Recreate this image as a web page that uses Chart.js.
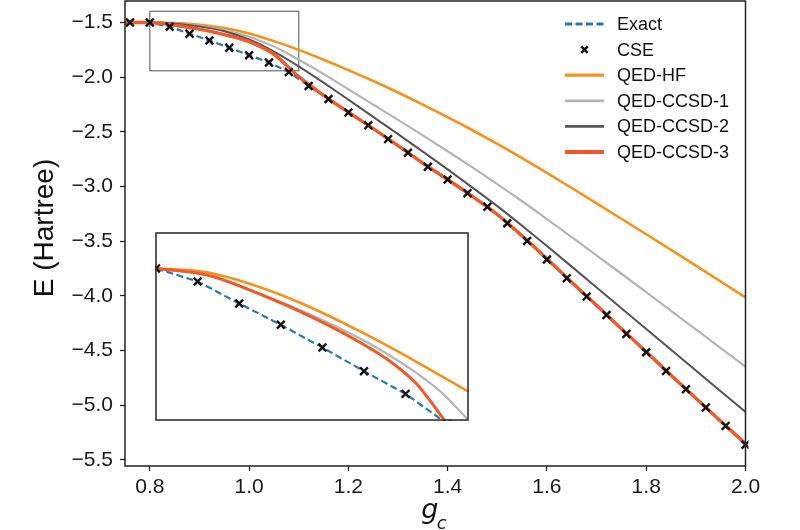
<!DOCTYPE html>
<html><head><meta charset="utf-8">
<script src="https://cdn.jsdelivr.net/npm/chart.js@4.4.1/dist/chart.umd.min.js"></script>
<style>
html,body{margin:0;padding:0;background:#fff;}
#wrap{position:relative;width:800px;height:530px;overflow:hidden;}
#main{position:absolute;left:0;top:0;}
#inset{position:absolute;left:155px;top:232px;background:#fff;}
</style></head><body>
<div id="wrap"><canvas id="main" width="800" height="530"></canvas><canvas id="inset" width="314" height="189"></canvas></div>
<script>
// ---------- data ----------
const xTicks = [0.8, 1.0, 1.2, 1.4, 1.6, 1.8, 2.0];
const yTicks = [-1.5, -2.0, -2.5, -3.0, -3.5, -4.0, -4.5, -5.0, -5.5];

const gridX = [0.75,0.80,0.85,0.90,0.95,1.00,1.05,1.10,1.15,1.20,1.25,1.30,1.35,1.40,1.45,1.50,1.55,1.60,1.65,1.70,1.75,1.80,1.85,1.90,1.95,2.00];
const hfE   = [-1.50,-1.50,-1.505,-1.52,-1.55,-1.60,-1.67,-1.75,-1.84,-1.935,-2.035,-2.14,-2.25,-2.365,-2.485,-2.61,-2.74,-2.875,-3.013,-3.153,-3.294,-3.436,-3.579,-3.723,-3.868,-4.014];
const ccsd1E= [-1.50,-1.50,-1.508,-1.53,-1.57,-1.63,-1.72,-1.84,-1.97,-2.11,-2.25,-2.39,-2.532,-2.677,-2.825,-2.977,-3.134,-3.297,-3.462,-3.629,-3.797,-3.966,-4.136,-4.306,-4.477,-4.648];
const ccsd2E= [-1.50,-1.50,-1.51,-1.535,-1.58,-1.655,-1.765,-1.90,-2.05,-2.205,-2.362,-2.52,-2.68,-2.843,-3.009,-3.179,-3.359,-3.544,-3.732,-3.922,-4.112,-4.302,-4.492,-4.682,-4.872,-5.06];
const ccsd3E= [-1.50,-1.50,-1.525,-1.56,-1.61,-1.675,-1.79,-1.995,-2.165,-2.32,-2.47,-2.625,-2.785,-2.935,-3.09,-3.255,-3.45,-3.66,-3.875,-4.085,-4.30,-4.51,-4.725,-4.935,-5.145,-5.35];

const exactX = [0.75,0.76,0.80,0.84,0.88,0.92,0.96,1.00,1.04,1.08,1.12,1.16,1.20,1.24,1.28,1.32,1.36,1.40,1.44,1.48,1.52,1.56,1.60,1.64,1.68,1.72,1.76,1.80,1.84,1.88,1.92,1.96,2.00];
const exactE = [-1.5,-1.5,-1.5,-1.538,-1.602,-1.664,-1.730,-1.799,-1.865,-1.952,-2.080,-2.199,-2.322,-2.440,-2.566,-2.690,-2.818,-2.935,-3.060,-3.185,-3.335,-3.497,-3.667,-3.838,-4.006,-4.174,-4.347,-4.515,-4.686,-4.853,-5.021,-5.188,-5.360];
const cseX = [0.76,0.80,0.84,0.88,0.92,0.96,1.00,1.04,1.08,1.12,1.16,1.20,1.24,1.28,1.32,1.36,1.40,1.44,1.48,1.52,1.56,1.60,1.64,1.68,1.72,1.76,1.80,1.84,1.88,1.92,1.96,2.00];
const cseE = [-1.5,-1.5,-1.538,-1.602,-1.664,-1.730,-1.799,-1.865,-1.952,-2.080,-2.199,-2.322,-2.440,-2.566,-2.690,-2.818,-2.935,-3.060,-3.185,-3.335,-3.497,-3.667,-3.838,-4.006,-4.174,-4.347,-4.515,-4.686,-4.853,-5.021,-5.188,-5.360];

// inset (zoomed view) curves as drawn in the inset
const insetX    = [0.80,0.85,0.90,0.95,1.00,1.025,1.05,1.075,1.10];
const insetHF   = [-1.50,-1.512,-1.555,-1.615,-1.689,-1.729,-1.771,-1.814,-1.858];
const insetC1   = [-1.50,-1.52,-1.574,-1.636,-1.71,-1.754,-1.803,-1.862,-1.94];
const insetC3   = [-1.50,-1.52,-1.575,-1.642,-1.722,-1.770,-1.834,-1.932,-2.045];
const insetXRange = [0.8, 1.1];
const insetYRange = [-1.941, -1.397];

const legendOrder = ['Exact','CSE','QED-HF','QED-CCSD-1','QED-CCSD-2','QED-CCSD-3'];

// ---------- styles ----------
const C_BLUE='#2a78b6', C_HF='#f5921e', C_C1='#b5b5b5', C_C2='#555555', C_C3='#ee5a2a', C_CSE='#111111';
const FONT='"Liberation Sans", Arial, sans-serif';

function pts(xs, ys){ return xs.map((x,i)=>({x:x, y:ys[i]})); }
function fmt(v){ return (v<0?'\u2212':'') + Math.abs(v).toFixed(1); }

function datasets(main){
  const d = [
    {label:'CSE', data:pts(cseX,cseE), showLine:false, pointStyle:'crossRot', pointRadius:5.5, pointBorderWidth:2.4, borderColor:C_CSE, backgroundColor:C_CSE, pointBorderColor:C_CSE, order:0, clip:3},
    {label:'QED-CCSD-3', data:pts(main?gridX:insetX, main?ccsd3E:insetC3), borderColor:C_C3, borderWidth:main?3.4:3, pointRadius:0, cubicInterpolationMode:'monotone', order:1},
    {label:'Exact', data:pts(exactX,exactE), borderColor:C_BLUE, borderWidth:2.2, borderDash:[7,3.5], pointRadius:0, order:2},
  ];
  if (main) d.push({label:'QED-CCSD-2', data:pts(gridX,ccsd2E), borderColor:C_C2, borderWidth:2, pointRadius:0, cubicInterpolationMode:'monotone', order:3});
  d.push({label:'QED-CCSD-1', data:pts(main?gridX:insetX, main?ccsd1E:insetC1), borderColor:C_C1, borderWidth:2.2, pointRadius:0, cubicInterpolationMode:'monotone', order:4});
  d.push({label:'QED-HF', data:pts(main?gridX:insetX, main?hfE:insetHF), borderColor:C_HF, borderWidth:2.6, pointRadius:0, cubicInterpolationMode:'monotone', order:5});
  return d;
}

const framePlugin = {id:'frame', afterDraw(chart){
  const {ctx, chartArea:a} = chart;
  ctx.save(); ctx.strokeStyle='#222'; ctx.lineWidth=1.5;
  ctx.strokeRect(a.left, a.top, a.right-a.left, a.bottom-a.top);
  ctx.restore();
}};

const zoomBoxPlugin = {id:'zoombox', beforeDatasetsDraw(chart){
  const {ctx, scales:{x,y}} = chart;
  const x0=x.getPixelForValue(insetXRange[0]), x1=x.getPixelForValue(insetXRange[1]);
  const y0=y.getPixelForValue(insetYRange[1]), y1=y.getPixelForValue(insetYRange[0]);
  ctx.save(); ctx.strokeStyle='#7a7a7a'; ctx.lineWidth=1.3;
  ctx.strokeRect(x0, y0, x1-x0, y1-y0); ctx.restore();
}};

const legendPlugin = {id:'customLegend', afterDraw(chart){
  const ctx = chart.ctx;
  ctx.save();
  ctx.font = '18px ' + FONT; ctx.textBaseline='middle'; ctx.fillStyle='#111';
  legendOrder.forEach((lab,i)=>{
    const ds = chart.data.datasets.find(d=>d.label===lab);
    const yy = 24 + i*25.6;
    const xs = 565, xe = 604;
    if (ds.showLine === false){
      const cx=(xs+xe)/2, r=3.2;
      ctx.strokeStyle=ds.borderColor; ctx.lineWidth=2.6; ctx.setLineDash([]);
      ctx.beginPath(); ctx.moveTo(cx-r,yy-r); ctx.lineTo(cx+r,yy+r); ctx.moveTo(cx-r,yy+r); ctx.lineTo(cx+r,yy-r); ctx.stroke();
    } else {
      ctx.strokeStyle=ds.borderColor; ctx.lineWidth=ds.borderWidth+0.6; ctx.setLineDash(ds.borderDash||[]);
      ctx.beginPath(); ctx.moveTo(xs,yy); ctx.lineTo(xe,yy); ctx.stroke(); ctx.setLineDash([]);
    }
    ctx.fillStyle='#111'; ctx.fillText(lab, 617, yy+1);
  });
  ctx.restore();
}};

const titlePlugin = {id:'titles', afterDraw(chart){
  const {ctx, chartArea:a} = chart;
  ctx.save(); ctx.fillStyle='#111';
  ctx.translate(45.5, 228); ctx.rotate(-Math.PI/2);
  ctx.font='28px '+FONT; ctx.textAlign='center'; ctx.textBaseline='middle';
  ctx.fillText('E (Hartree)', 0, 0);
  ctx.restore();
  ctx.save(); ctx.fillStyle='#111'; ctx.textBaseline='alphabetic'; ctx.textAlign='left';
  const cx = (a.left+a.right)/2;
  ctx.font='italic 27px "DejaVu Sans", sans-serif';
  ctx.fillText('g', cx-14, 517.5);
  ctx.font='italic 18px "DejaVu Sans", sans-serif';
  ctx.fillText('c', cx+1.5, 528.5);
  ctx.restore();
}};

const tickFont = {family:FONT, size:21};

new Chart(document.getElementById('main'), {
  type:'line',
  data:{datasets:datasets(true)},
  options:{
    responsive:false, animation:false, devicePixelRatio:1,
    layout:{autoPadding:false, padding:{left:0,right:54.5,top:1,bottom:0}},
    plugins:{legend:{display:false}, tooltip:{enabled:false}},
    scales:{
      x:{type:'linear', min:0.75, max:2.0,
        afterBuildTicks:s=>{s.ticks=xTicks.map(v=>({value:v}));},
        afterFit:s=>{s.height=64; s.paddingLeft=0; s.paddingRight=0;},
        grid:{drawOnChartArea:false, drawTicks:true, tickLength:5, tickColor:'#222', tickWidth:1.3},
        border:{display:false},
        ticks:{color:'#1a1a1a', font:tickFont, padding:4, maxRotation:0, autoSkip:false, callback:v=>fmt(v)}},
      y:{type:'linear', min:-5.555, max:-1.303,
        afterBuildTicks:s=>{s.ticks=yTicks.map(v=>({value:v}));},
        afterFit:s=>{s.width=125; s.paddingTop=0; s.paddingBottom=0;},
        grid:{drawOnChartArea:false, drawTicks:true, tickLength:5, tickColor:'#222', tickWidth:1.3},
        border:{display:false},
        ticks:{color:'#1a1a1a', font:tickFont, padding:7, autoSkip:false, callback:v=>fmt(v)}}
    }
  },
  plugins:[zoomBoxPlugin, framePlugin, legendPlugin, titlePlugin]
});

const insetFrame = {id:'insetFrame', afterDraw(chart){
  const {ctx, chartArea:a} = chart;
  ctx.save(); ctx.strokeStyle='#333'; ctx.lineWidth=1.6;
  ctx.strokeRect(a.left, a.top, a.right-a.left, a.bottom-a.top); ctx.restore();
}};

new Chart(document.getElementById('inset'), {
  type:'line',
  data:{datasets:datasets(false)},
  options:{
    responsive:false, animation:false, devicePixelRatio:1,
    layout:{autoPadding:false, padding:1},
    plugins:{legend:{display:false}, tooltip:{enabled:false}},
    scales:{
      x:{type:'linear', display:false, min:insetXRange[0], max:insetXRange[1]},
      y:{type:'linear', display:false, min:insetYRange[0], max:insetYRange[1]}
    }
  },
  plugins:[insetFrame]
});
</script>
</body></html>
